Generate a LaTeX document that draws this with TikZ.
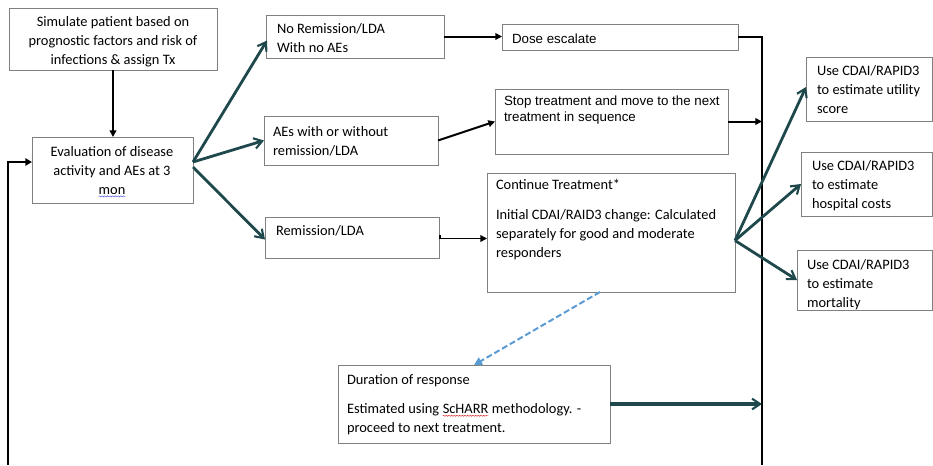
\documentclass[tikz,border=0pt]{standalone}
\usepackage{fontspec}
\setmainfont{Carlito}
\newfontfamily\arialfont{Liberation Sans}
\usetikzlibrary{arrows.meta,fit,calc,decorations.pathmorphing}

\definecolor{boxgray}{RGB}{128,128,128}
\definecolor{flowteal}{RGB}{30,72,76}
\definecolor{dashblue}{RGB}{91,155,213}
\definecolor{spellblue}{RGB}{80,90,220}
\definecolor{spellred}{RGB}{220,40,40}

% word with a wavy proofing underline
\newcommand\spellmark[2]{\tikz[baseline=(w.base)]{\node[inner sep=0pt,outer sep=0pt](w){#2};\draw[#1,line width=0.35pt,decorate,decoration={snake,amplitude=0.45pt,segment length=2pt}]([yshift=-1.8pt]w.base west)--([yshift=-1.8pt]w.base east);}}

% text nodes are placed by the baseline of their last line
\tikzset{
  box/.style={draw=boxgray,line width=0.7pt,inner sep=0pt,outer sep=0pt},
  txt/.style={inner sep=0pt,outer sep=0pt,anchor=base west,align=left,
              font=\fontsize{10.8}{14}\selectfont},
  ctxt/.style={inner sep=0pt,outer sep=0pt,anchor=base,align=center,
              font=\fontsize{10.8}{14}\selectfont},
  atxt/.style={inner sep=0pt,outer sep=0pt,anchor=base west,align=left,
              font=\arialfont\fontsize{10}{11.3}\selectfont},
  blk/.style={line width=1.5pt,draw=black},
  blkarrow/.style={blk,-{Triangle[length=5pt,width=5pt]}},
  tealarrow/.style={line width=2.1pt,draw=flowteal,
                    -{Straight Barb[length=6pt,width=8pt,line width=1.6pt]}},
  dasharrow/.style={line width=1.5pt,draw=dashblue,dash pattern=on 4.5pt off 2.2pt,
                    -{Triangle[length=6pt,width=6pt]}},
}

\begin{document}
\begin{tikzpicture}[x=0.75pt,y=-0.75pt]
\useasboundingbox (0,0) rectangle (933,465);

% boxes
\node[box,fit={(9,8)(217,70)}] (sim) {};
\node[box,fit={(32,137)(193,203)}] (eval) {};
\node[box,fit={(266,15)(444,58)}] (norem) {};
\node[box,fit={(502,24)(738,50)}] (dose) {};
\node[box,fit={(264,116)(438,165)}] (aes) {};
\node[box,fit={(495,89)(728,154)}] (stop) {};
\node[box,fit={(265,217)(439,258)}] (rem) {};
\node[box,fit={(487,173)(735,292)}] (cont) {};
\node[box,fit={(806,57)(932,121)}] (util) {};
\node[box,fit={(801,152)(932,216)}] (hosp) {};
\node[box,fit={(797,250)(932,310)}] (mort) {};
\node[box,fit={(338,365)(610,443)}] (dur) {};

% texts
\node[ctxt] (simtxt) at (113,64) {Simulate patient based on\\prognostic factors and risk of\\infections \& assign Tx};
\node[ctxt] (evaltxt) at (112,194) {Evaluation of disease\\activity and AEs at 3\\\spellmark{spellblue}{mon}};
\node[txt] (noremtxt) at (277,52) {No Remission/LDA\\With no AEs};
\node[atxt] (dosetxt) at (512,43) {Dose escalate};
\node[txt] (aestxt) at (273,155) {AEs with or without\\remission/LDA};
\node[atxt] (stoptxt) at (504,121) {Stop treatment and move to the next\\treatment in sequence};
\node[txt] (remtxt) at (276,235) {Remission/LDA};
\node[txt] (conttxt) at (496,257) {Continue Treatment*\\[8.5pt]Initial CDAI/RAID3 change: Calculated\\separately for good and moderate\\responders};
\node[txt] (utiltxt) at (817,113) {Use CDAI/RAPID3\\to estimate utility\\score};
\node[txt] (hosptxt) at (812,208) {Use CDAI/RAPID3\\to estimate\\hospital costs};
\node[txt] (morttxt) at (807,307) {Use CDAI/RAPID3\\to estimate\\mortality};
\node[txt] (durtxt) at (347,432) {Duration of response\\[8pt]Estimated using \spellmark{spellred}{ScHARR} methodology. -\\proceed to next treatment.};

% vertical rails
\coordinate (railtop) at (762,37);
\coordinate (railbot) at (762,465);
\coordinate (loopbot) at (8,465);

% black connectors
\draw[blkarrow] (sim.south) -- (sim.south |- eval.north);
\draw[blk,line width=2.2pt,-{Triangle[length=5pt,width=5.5pt]}] (loopbot) |- ($(eval.west)+(0,-8)$);
\draw[blkarrow] (norem.east) -- (norem.east -| dose.west);
\draw[blk] (dose.east) -- (railtop) -- (railbot);
\draw[blkarrow] (aes.east) -- (stop.west);
\draw[blkarrow] (stop.east) -- (stop.east -| railtop);
\draw[blk,line width=1.1pt,-{Triangle[length=5pt,width=5pt]}] ($(rem.east)+(1,-3)$) |- ($(cont.west)+(0,6)$);

% teal branches
\draw[tealarrow] ($(eval.east)+(0,-8)$) -- ($(norem.west)+(1,4)$);
\draw[tealarrow] ($(eval.east)+(0,-8)$) -- (aes.west);
\draw[tealarrow] ($(eval.east)+(0,-3)$) -- ($(rem.west)+(0,2)$);
\draw[tealarrow] ($(cont.east)+(0,8)$) -- ($(util.west)+(0,-2)$);
\draw[tealarrow] ($(cont.east)+(0,8)$) -- (hosp.west);
\draw[tealarrow] ($(cont.east)+(0,8)$) -- (mort.west);
\draw[tealarrow,line width=2.6pt] (dur.east) -- (dur.east -| railtop);

% dashed link
\draw[dasharrow] ($(cont.south)+(-11,0)$) -- (dur.north);
\end{tikzpicture}
\end{document}
